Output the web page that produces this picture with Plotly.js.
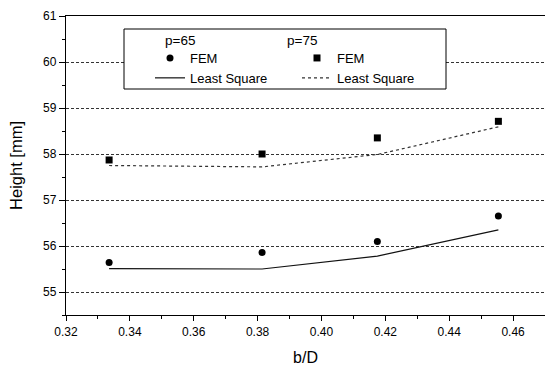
<!DOCTYPE html>
<html>
<head>
<meta charset="utf-8">
<script src="https://cdn.plot.ly/plotly-3.0.1.min.js"></script>
<style>html,body{margin:0;padding:0;background:#fff;}#chart{width:545px;height:367px;}</style>
</head>
<body>
<div id="chart"></div>
<script>
// Data
const bD = [0.3335, 0.3814, 0.4175, 0.4554];
const fem65 = [55.64, 55.86, 56.10, 56.65];
const ls65 = [55.51, 55.50, 55.78, 56.35];
const fem75 = [57.87, 58.00, 58.35, 58.71];
const ls75 = [57.75, 57.72, 57.99, 58.59];
const xTicks = [0.32, 0.34, 0.36, 0.38, 0.40, 0.42, 0.44, 0.46];
const xTickText = ['0.32', '0.34', '0.36', '0.38', '0.40', '0.42', '0.44', '0.46'];
const yTicks = [55, 56, 57, 58, 59, 60, 61];

const FONT = 'Arial, "Liberation Sans", Helvetica, sans-serif';

const traces = [
  {x: bD, y: fem65, name: 'FEM', mode: 'markers', type: 'scatter',
   marker: {symbol: 'circle', size: 7, color: '#000'}, legend: 'legend'},
  {x: bD, y: ls65, name: 'Least Square', mode: 'lines', type: 'scatter',
   line: {color: '#111', width: 1.2}, legend: 'legend'},
  {x: bD, y: fem75, name: 'FEM', mode: 'markers', type: 'scatter',
   marker: {symbol: 'square', size: 7, color: '#000'}, legend: 'legend2'},
  {x: bD, y: ls75, name: 'Least Square', mode: 'lines', type: 'scatter',
   line: {color: '#333', width: 1.2, dash: 'dot'}, legend: 'legend2'}
];

const L = 66, W = 479, T = 16, H = 299;
const px = v => (v - L) / W;
const py = v => 1 - (v - T) / H;

const legendCommon = {
  font: {family: FONT, size: 13, color: '#000'},
  bgcolor: 'rgba(0,0,0,0)', borderwidth: 0,
  xanchor: 'left', yanchor: 'top', tracegroupgap: 0
};

const layout = {
  width: 545, height: 367,
  margin: {l: L, r: 0, t: T, b: 367 - T - H},
  paper_bgcolor: '#fff', plot_bgcolor: '#fff',
  font: {family: FONT, color: '#000'},
  showlegend: true,
  legend: Object.assign({}, legendCommon, {x: px(150), y: py(43)}),
  legend2: Object.assign({}, legendCommon, {x: px(297), y: py(43)}),
  xaxis: {
    range: [0.32, 0.47], tickvals: xTicks, ticktext: xTickText,
    ticks: 'outside', ticklen: 5, tickwidth: 1, tickcolor: '#000',
    minor: {dtick: 0.01, ticks: 'outside', ticklen: 3, tickcolor: '#000', showgrid: false},
    showline: true, linecolor: '#000', linewidth: 1.2, mirror: true,
    showgrid: false, zeroline: false,
    tickfont: {family: FONT, size: 12, color: '#000'},
    title: {text: 'b/D', font: {family: FONT, size: 16, color: '#000'}, standoff: 14}
  },
  yaxis: {
    range: [54.5, 61], tickvals: yTicks,
    ticks: 'outside', ticklen: 6, tickwidth: 1, tickcolor: '#000',
    minor: {dtick: 0.5, tick0: 54.5, ticks: 'outside', ticklen: 3, tickcolor: '#000', showgrid: false},
    showline: true, linecolor: '#000', linewidth: 1.2, mirror: false,
    showgrid: true, gridcolor: '#333', gridwidth: 1, griddash: '3px,2px',
    zeroline: false,
    tickfont: {family: FONT, size: 12, color: '#000'},
    title: {text: 'Height [mm]', font: {family: FONT, size: 16.5, color: '#000'}, standoff: 16}
  },
  shapes: [
    {type: 'rect', xref: 'paper', yref: 'paper', layer: 'above',
     x0: px(124), x1: px(446), y0: py(89), y1: py(29),
     line: {color: '#000', width: 1}, fillcolor: '#fff'}
  ],
  annotations: [
    {text: 'p=65', xref: 'paper', yref: 'paper', x: px(163), y: py(41),
     xanchor: 'left', yanchor: 'middle', showarrow: false,
     font: {family: FONT, size: 13.5, color: '#000'}},
    {text: 'p=75', xref: 'paper', yref: 'paper', x: px(285), y: py(41),
     xanchor: 'left', yanchor: 'middle', showarrow: false,
     font: {family: FONT, size: 13.5, color: '#000'}}
  ]
};

Plotly.newPlot('chart', traces, layout, {displayModeBar: false, staticPlot: true});
</script>
</body>
</html>
